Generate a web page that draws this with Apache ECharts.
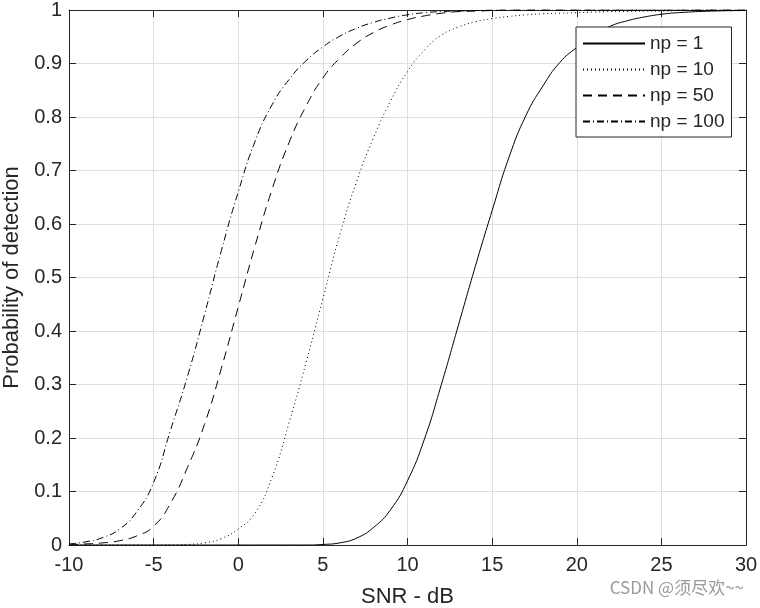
<!DOCTYPE html>
<html>
<head>
<meta charset="utf-8">
<script src="https://cdn.jsdelivr.net/npm/echarts@6/dist/echarts.min.js"></script>
<style>
    html, body { margin: 0; padding: 0; background: #fff; }
    #chart { width: 760px; height: 608px; }
</style>
</head>
<body>
<div id="chart"></div>
<script type="text/javascript">
    // SNR (dB) shared by all curves
    var snr = [-10,-9,-8,-7,-6,-5,-4,-3,-2,-1,0,1,2,3,4,5,6,7,8,9,10,11,12,13,14,15,16,17,18,19,20,21,22,23,24,25,26,28,30];
    // probability of detection
    var np1   = [0,0,0,0,0,0,0,0,0,0,0,0,0,0,0,0.001,0.004,0.013,0.033,0.066,0.12,0.198,0.3,0.41,0.52,0.625,0.725,0.803,0.858,0.902,0.93,0.953,0.97,0.98,0.987,0.992,0.995,0.998,0.999];
    var np10  = [0,0,0,0,0,0,0,0.001,0.004,0.012,0.03,0.06,0.127,0.228,0.34,0.46,0.58,0.68,0.762,0.83,0.885,0.925,0.953,0.968,0.978,0.984,0.988,0.991,0.993,0.994,0.995,0.996,0.997,0.997,0.998,0.998,0.999,1,1];
    var np50  = [0.001,0.002,0.004,0.008,0.017,0.035,0.078,0.145,0.225,0.33,0.445,0.56,0.665,0.752,0.82,0.873,0.91,0.938,0.958,0.972,0.982,0.989,0.994,0.997,0.998,0.999,1,1,1,1,1,1,1,1,1,1,1,1,1];
    var np100 = [0.002,0.006,0.014,0.03,0.062,0.117,0.215,0.315,0.43,0.55,0.66,0.755,0.823,0.87,0.905,0.931,0.951,0.966,0.977,0.985,0.991,0.995,0.997,0.998,0.999,1,1,1,1,1,1,1,1,1,1,1,1,1,1];
    var names = ['np = 1', 'np = 10', 'np = 50', 'np = 100'];
    var dashes = ['solid', [1, 3], [9, 6], [7, 3, 1, 3]];

    var txt = '#262626';
    var fontFam = 'Liberation Sans, Arial, sans-serif';

    function pairs(ys) {
        var out = [];
        for (var i = 0; i < snr.length; i++) {
            out.push([snr[i], ys[i]]);
        }
        return out;
    }

    // one side of the axes box: line + inward ticks
    function boxAxis(pos, isX) {
        var a = {
            type: 'value',
            position: pos,
            axisLine: { show: true, onZero: false, lineStyle: { color: txt, width: 1 } },
            axisTick: { show: true, inside: true, length: 7, lineStyle: { color: txt } },
            axisLabel: { show: false },
            splitLine: { show: false }
        };
        if (isX) { a.min = -10; a.max = 30; a.interval = 5; }
        else { a.min = 0; a.max = 1; a.interval = 0.1; }
        return a;
    }

    var myChart = echarts.init(document.getElementById('chart'));

    var xMain = boxAxis('bottom', true);
    xMain.axisLabel = { show: true, color: txt, fontSize: 20, fontFamily: fontFam, margin: 10 };
    xMain.splitLine = { show: true, lineStyle: { color: '#dfdfdf', width: 1 } };
    xMain.name = 'SNR - dB';
    xMain.nameLocation = 'middle';
    xMain.nameGap = 41;
    xMain.nameTextStyle = { color: txt, fontSize: 22, fontFamily: fontFam };

    var yMain = boxAxis('left', false);
    yMain.axisLabel = { show: true, color: txt, fontSize: 20, fontFamily: fontFam, margin: 7 };
    yMain.splitLine = { show: true, lineStyle: { color: '#dfdfdf', width: 1 } };
    yMain.name = 'Probability of detection';
    yMain.nameLocation = 'middle';
    yMain.nameGap = 44;
    yMain.nameTextStyle = { color: txt, fontSize: 22, fontFamily: fontFam };

    var series = [];
    var lists = [np1, np10, np50, np100];
    for (var k = 0; k < lists.length; k++) {
        series.push({
            name: names[k],
            type: 'line',
            data: pairs(lists[k]),
            smooth: 0.5,
            symbol: 'none',
            lineStyle: { color: '#000', width: 1, type: dashes[k] },
            itemStyle: { color: '#000' }
        });
    }

    var option = {
        animation: false,
        backgroundColor: '#fff',
        grid: { left: 69, top: 10, width: 677, height: 535, containLabel: false, outerBoundsMode: 'none' },
        xAxis: [xMain, boxAxis('top', true)],
        yAxis: [yMain, boxAxis('right', false)],
        legend: {
            data: names,
            orient: 'vertical',
            left: 576,
            top: 27,
            itemWidth: 62,
            itemHeight: 18,
            itemGap: 7,
            padding: [7, 7, 6, 6],
            backgroundColor: '#fff',
            borderColor: txt,
            borderWidth: 1,
            borderRadius: 0,
            itemStyle: { opacity: 0 },
            textStyle: { color: txt, fontSize: 19, fontFamily: fontFam }
        },
        graphic: [{
            type: 'text',
            right: 16,
            top: 579,
            style: {
                text: 'CSDN @须尽欢~~',
                fill: '#9a9a9a',
                font: '17px "Noto Sans CJK SC", sans-serif'
            }
        }],
        series: series
    };

    myChart.setOption(option, true);
</script>
</body>
</html>
